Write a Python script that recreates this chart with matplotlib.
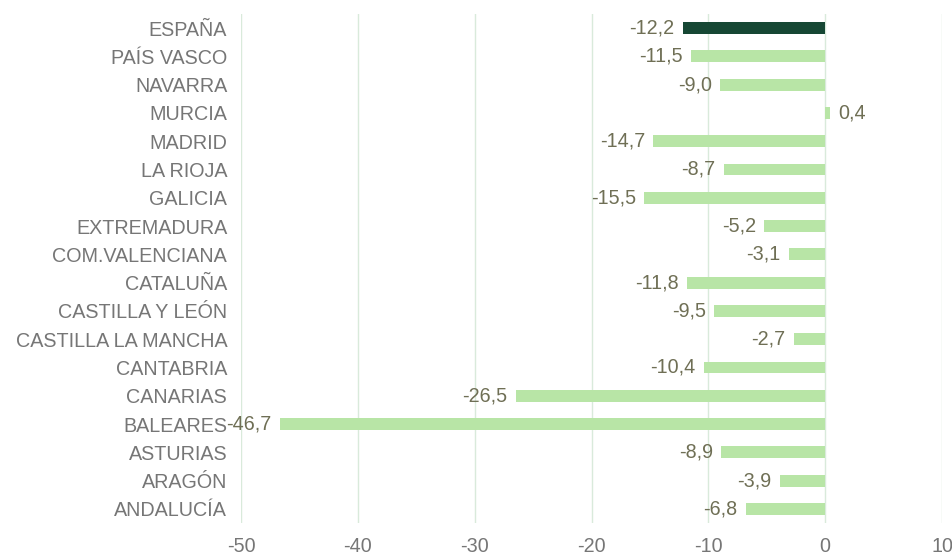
import matplotlib
matplotlib.use('Agg')
import matplotlib.pyplot as plt
import numpy as np

plt.rcParams['font.family'] = ['Liberation Sans', 'DejaVu Sans']

# data, top to bottom as drawn
regions = ['ESPAÑA', 'PAÍS VASCO', 'NAVARRA', 'MURCIA', 'MADRID', 'LA RIOJA',
           'GALICIA', 'EXTREMADURA', 'COM.VALENCIANA', 'CATALUÑA',
           'CASTILLA Y LEÓN', 'CASTILLA LA MANCHA', 'CANTABRIA', 'CANARIAS',
           'BALEARES', 'ASTURIAS', 'ARAGÓN', 'ANDALUCÍA']
values = [-12.2, -11.5, -9.0, 0.4, -14.7, -8.7, -15.5, -5.2, -3.1, -11.8,
          -9.5, -2.7, -10.4, -26.5, -46.7, -8.9, -3.9, -6.8]
x_ticks = [-50, -40, -30, -20, -10, 0, 10]

LIGHT = '#b8e5a6'
DARK = '#164734'
LABEL_COL = '#767676'
VALUE_COL = '#6f6f55'
FS = 14.2

fig = plt.figure(figsize=(9.52, 5.57), dpi=100)
ax = fig.add_axes([0.2532, 0.061, 0.7363, 0.914])

y = np.arange(len(regions))[::-1]
colors = [DARK if r == 'ESPAÑA' else LIGHT for r in regions]
ax.barh(y, values, height=0.42, color=colors, zorder=3)

for yi, v in zip(y, values):
    txt = f'{v:.1f}'.replace('.', ',')
    if v < 0:
        ax.annotate(txt, (v, yi), xytext=(-6, 0), textcoords='offset points',
                    ha='right', va='center', color=VALUE_COL, fontsize=FS)
    else:
        ax.annotate(txt, (v, yi), xytext=(6, 0), textcoords='offset points',
                    ha='left', va='center', color=VALUE_COL, fontsize=FS)

ax.set_xlim(-50, 10)
ax.set_ylim(-0.5, len(regions) - 0.5)
ax.set_xticks(x_ticks)
ax.set_xticklabels([str(t) for t in x_ticks])
ax.set_yticks(y)
ax.set_yticklabels(regions)
ax.tick_params(axis='both', length=0, labelsize=FS, labelcolor=LABEL_COL)
ax.tick_params(axis='x', pad=10)
ax.tick_params(axis='y', pad=10)
ax.xaxis.grid(True, color='#d9eadb', linewidth=1, zorder=0)
for s in ax.spines.values():
    s.set_visible(False)

fig.savefig('out.png', dpi=100)
